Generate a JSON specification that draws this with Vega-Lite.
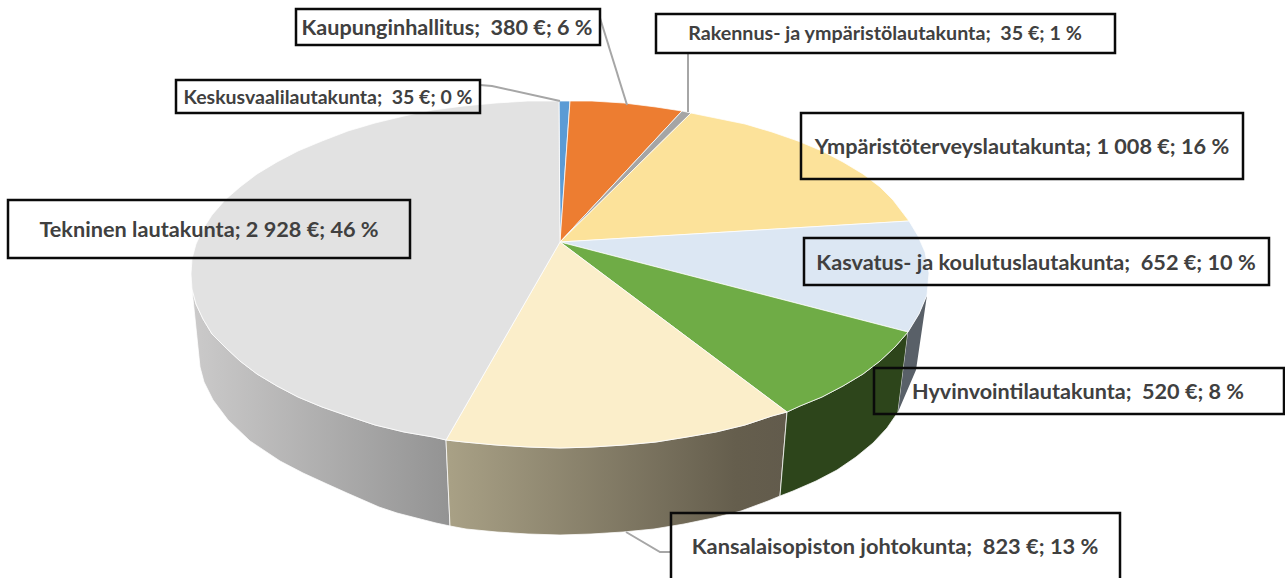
{
"$schema":"https://vega.github.io/schema/vega-lite/v6.json",
"width":1285,"height":578,"padding":0,"autosize":{"type":"none"},"background":"white",
"projection":{"type":"identity","scale":1,"translate":[0,0]},
"datasets":{
"slices":[
{"name":"Keskusvaalilautakunta","value":35,"share":0,"geo":{"type":"Polygon","coordinates":[[[560,242],[559,101],[570,101],[560,242]]]}},
{"name":"Kaupunginhallitus","value":380,"share":6,"geo":{"type":"Polygon","coordinates":[[[560,242],[570,101],[592,101],[624,103],[656,107],[682,111],[560,242]]]}},
{"name":"Rakennus- ja ympäristölautakunta","value":35,"share":1,"geo":{"type":"Polygon","coordinates":[[[560,242],[682,111],[691,113],[560,242]]]}},
{"name":"Ympäristöterveyslautakunta","value":1008,"share":16,"geo":{"type":"Polygon","coordinates":[[[560,242],[691,113],[745,124],[772,132],[798,141],[822,151],[843,162],[863,174],[880,187],[893,200],[909,221],[560,242]]]}},
{"name":"Kasvatus- ja koulutuslautakunta","value":652,"share":10,"geo":{"type":"Polygon","coordinates":[[[560,242],[909,221],[918,236],[925,252],[929,273],[927,295],[919,314],[908,332],[560,242]]]}},
{"name":"Hyvinvointilautakunta","value":520,"share":8,"geo":{"type":"Polygon","coordinates":[[[560,242],[908,332],[895,347],[880,361],[863,374],[843,386],[822,397],[800,406],[787,412],[560,242]]]}},
{"name":"Kansalaisopiston johtokunta","value":823,"share":13,"geo":{"type":"Polygon","coordinates":[[[560,242],[787,412],[772,416],[745,425],[716,432],[687,437],[656,442],[624,445],[592,447],[560,448],[528,447],[496,445],[464,442],[446,440],[560,242]]]}},
{"name":"Tekninen lautakunta","value":2928,"share":46,"geo":{"type":"Polygon","coordinates":[[[560,242],[446,440],[433,437],[404,432],[375,425],[348,416],[322,407],[298,397],[277,386],[257,374],[240,361],[225,347],[212,334],[203,319],[196,304],[192,289],[191,274],[192,259],[196,244],[203,229],[212,215],[225,200],[240,187],[257,174],[277,162],[298,151],[322,141],[348,131],[375,123],[404,116],[433,110],[464,106],[496,103],[528,101],[559,101],[560,242]]]}}
],
"wallGray":[{"name":"Tekninen lautakunta","geo":{"type":"Polygon","coordinates":[[[192,289],[196,304],[203,319],[212,334],[225,347],[240,361],[257,374],[277,386],[298,397],[322,407],[348,416],[375,425],[404,432],[433,437],[446,440],[450,526],[436,523],[397,513],[379,507],[347,493],[327,484],[303,473],[280,461],[250,441],[228,420],[213,400],[204,382],[200,367],[192,289]]]}}],
"wallCream":[{"name":"Kansalaisopiston johtokunta","geo":{"type":"Polygon","coordinates":[[[446,440],[464,442],[496,445],[528,447],[560,448],[592,447],[624,445],[656,442],[687,437],[716,432],[745,425],[772,416],[787,412],[780,496],[768,501],[741,511],[713,518],[684,524],[654,529],[623,532],[591,534],[560,535],[528,534],[497,532],[466,529],[450,526],[446,440]]]}}],
"wallGreen":[{"name":"Hyvinvointilautakunta","geo":{"type":"Polygon","coordinates":[[[787,412],[800,406],[822,397],[843,386],[863,374],[880,361],[895,347],[908,332],[898,412],[887,428],[873,443],[856,457],[837,470],[816,481],[793,491],[780,496],[787,412]]]}}],
"wallSlate":[{"name":"Kasvatus- ja koulutuslautakunta","geo":{"type":"Polygon","coordinates":[[[908,332],[919,314],[927,295],[916,370],[898,412],[908,332]]]}}],
"leaders":[
{"name":"Keskusvaalilautakunta","geo":{"type":"LineString","coordinates":[[480,85],[492,86],[560,101]]}},
{"name":"Kaupunginhallitus","geo":{"type":"LineString","coordinates":[[600,18],[627,105]]}},
{"name":"Rakennus- ja ympäristölautakunta","geo":{"type":"LineString","coordinates":[[688,53],[688,112]]}},
{"name":"Kansalaisopiston johtokunta","geo":{"type":"LineString","coordinates":[[626,532],[660,552],[670,552]]}}
],
"labels":[
{"name":"Kaupunginhallitus","text":"Kaupunginhallitus; \u00a0380 €; 6 %","cx":447,"cy":29,"geo":{"type":"Polygon","coordinates":[[[296,9],[600,9],[600,45],[296,45],[296,9]]]}},
{"name":"Rakennus- ja ympäristölautakunta","text":"Rakennus- ja ympäristölautakunta; \u00a035 €; 1 %","cx":885,"cy":34,"geo":{"type":"Polygon","coordinates":[[[656,14],[1115,14],[1115,53],[656,53],[656,14]]]}},
{"name":"Keskusvaalilautakunta","text":"Keskusvaalilautakunta; \u00a035 €; 0 %","cx":328,"cy":98,"geo":{"type":"Polygon","coordinates":[[[176,80],[480,80],[480,113],[176,113],[176,80]]]}},
{"name":"Ympäristöterveyslautakunta","text":"Ympäristöterveyslautakunta; 1 008 €; 16 %","cx":1022,"cy":147,"geo":{"type":"Polygon","coordinates":[[[801,113],[1243,113],[1243,179],[801,179],[801,113]]]}},
{"name":"Tekninen lautakunta","text":"Tekninen lautakunta; 2 928 €; 46 %","cx":209,"cy":230,"geo":{"type":"Polygon","coordinates":[[[8,200],[410,200],[410,258],[8,258],[8,200]]]}},
{"name":"Kasvatus- ja koulutuslautakunta","text":"Kasvatus- ja koulutuslautakunta; \u00a0652 €; 10 %","cx":1036,"cy":263,"geo":{"type":"Polygon","coordinates":[[[804,238],[1269,238],[1269,285],[804,285],[804,238]]]}},
{"name":"Hyvinvointilautakunta","text":"Hyvinvointilautakunta; \u00a0520 €; 8 %","cx":1078,"cy":393,"geo":{"type":"Polygon","coordinates":[[[874,368],[1284,368],[1284,414],[874,414],[874,368]]]}},
{"name":"Kansalaisopiston johtokunta","text":"Kansalaisopiston johtokunta; \u00a0823 €; 13 %","cx":895,"cy":547,"geo":{"type":"Polygon","coordinates":[[[671,513],[1120,513],[1120,590],[671,590],[671,513]]]}}
]
},
"layer":[
{"data":{"name":"wallGray"},"mark":{"type":"geoshape","stroke":"#ffffff","strokeWidth":0.75,"fill":{"x1":0,"y1":0,"x2":1,"y2":0,"gradient":"linear","stops":[{"offset":0,"color":"#cbcaca"},{"offset":1,"color":"#939393"}]}},"encoding":{"shape":{"field":"geo","type":"geojson"}}},
{"data":{"name":"wallCream"},"mark":{"type":"geoshape","stroke":"#ffffff","strokeWidth":0.75,"fill":{"x1":0,"y1":0,"x2":1,"y2":0,"gradient":"linear","stops":[{"offset":0,"color":"#a9a186"},{"offset":0.85,"color":"#655e4d"},{"offset":1,"color":"#625b4c"}]}},"encoding":{"shape":{"field":"geo","type":"geojson"}}},
{"data":{"name":"wallGreen"},"mark":{"type":"geoshape","stroke":"#ffffff","strokeWidth":0.75,"fill":"#2d451b"},"encoding":{"shape":{"field":"geo","type":"geojson"}}},
{"data":{"name":"wallSlate"},"mark":{"type":"geoshape","strokeWidth":0,"fill":"#596068"},"encoding":{"shape":{"field":"geo","type":"geojson"}}},
{"data":{"name":"slices"},"mark":{"type":"geoshape","stroke":"#ffffff","strokeWidth":0.75},"encoding":{"shape":{"field":"geo","type":"geojson"},"color":{"field":"name","type":"nominal","legend":null,"scale":{"domain":["Keskusvaalilautakunta","Kaupunginhallitus","Rakennus- ja ympäristölautakunta","Ympäristöterveyslautakunta","Kasvatus- ja koulutuslautakunta","Hyvinvointilautakunta","Kansalaisopiston johtokunta","Tekninen lautakunta"],"range":["#5b9bd5","#ed7d31","#a5a5a5","#fce29a","#dce7f3","#6fac46","#fbeeca","#e2e2e2"]}}}},
{"data":{"name":"leaders"},"mark":{"type":"geoshape","filled":false,"stroke":"#a6a6a6","strokeWidth":2},"encoding":{"shape":{"field":"geo","type":"geojson"}}},
{"data":{"name":"labels"},"mark":{"type":"geoshape","filled":false,"fill":null,"stroke":"#0a0a0a","strokeWidth":2.5},"encoding":{"shape":{"field":"geo","type":"geojson"}}},
{"data":{"name":"labels"},"mark":{"type":"text","font":"Lato","fontWeight":"bold","align":"center","baseline":"middle","color":"#404040"},"encoding":{"longitude":{"field":"cx","type":"quantitative"},"latitude":{"field":"cy","type":"quantitative"},"text":{"field":"text","type":"nominal"},"size":{"field":"name","type":"nominal","legend":null,"scale":{"type":"ordinal","domain":["Kaupunginhallitus","Rakennus- ja ympäristölautakunta","Keskusvaalilautakunta","Ympäristöterveyslautakunta","Tekninen lautakunta","Kasvatus- ja koulutuslautakunta","Hyvinvointilautakunta","Kansalaisopiston johtokunta"],"range":[21.6,19.7,19.5,21.7,21.7,21.7,21.6,21.8]}}}}
],
"config":{"view":{"stroke":null}}
}
